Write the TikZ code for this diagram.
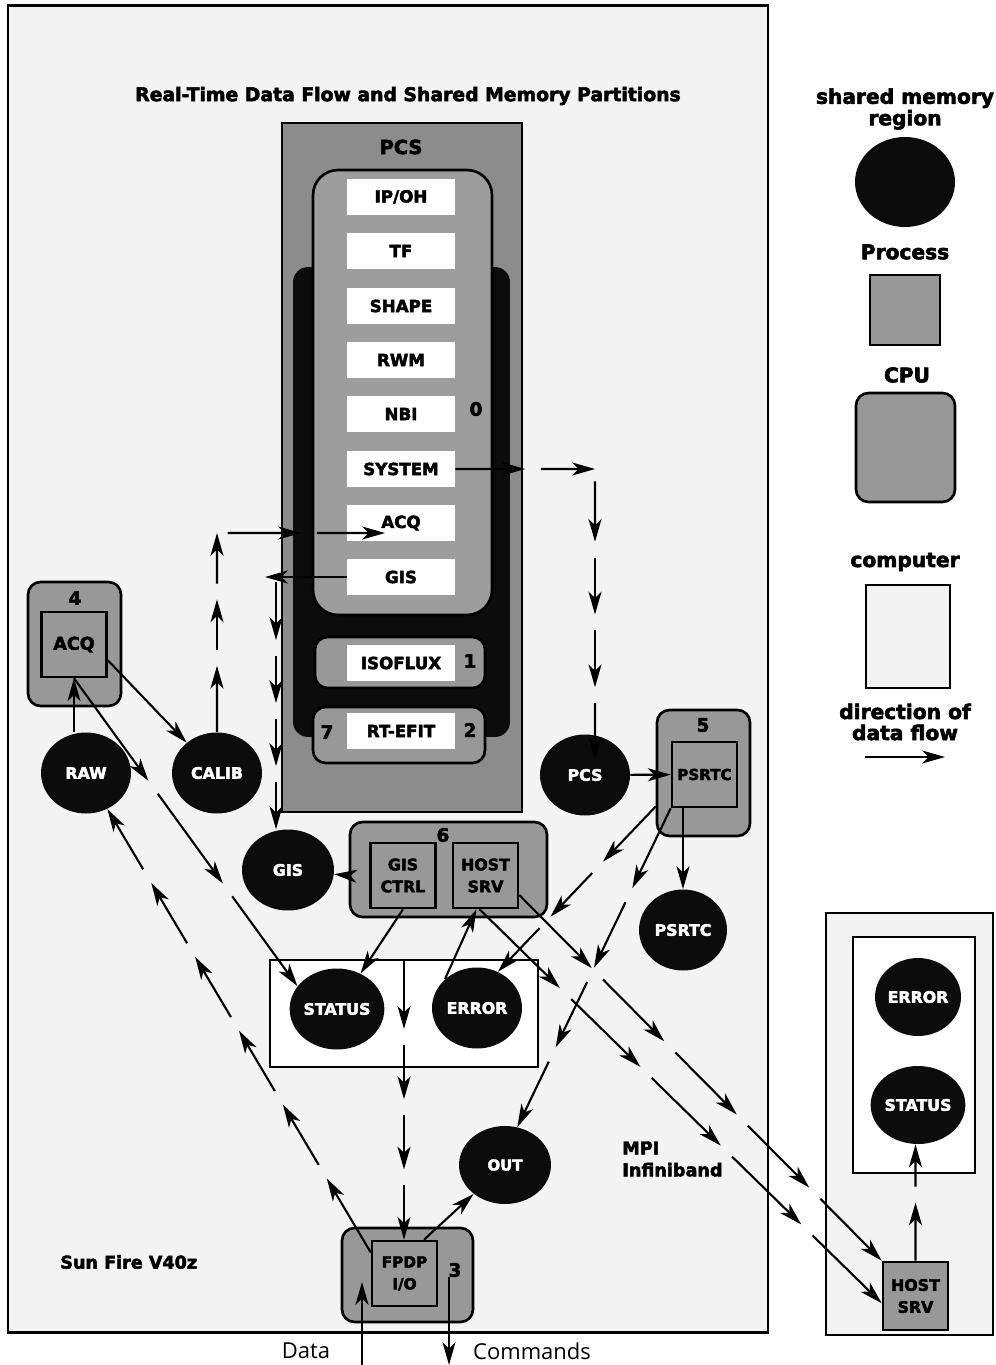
\documentclass[tikz,border=0pt]{standalone}
\usepackage{fontspec}
\setmainfont{DejaVu Sans}[BoldFeatures={FakeBold=2.8}]
\newfontfamily\plainfont{Open Sans}
\usepackage{tikz}
\usetikzlibrary{positioning, arrows.meta, shapes.geometric, calc}
\definecolor{procgray}  {RGB}{152, 152, 152}
\definecolor{pcsgray}   {RGB}{140, 140, 140}
\definecolor{compwhite} {RGB}{243, 243, 243}
\definecolor{memblack}  {RGB}{12,  12,  12}
\tikzset{
  computer/.style={
    rectangle, draw=black, line width=1.6pt, fill=compwhite, inner sep=0pt
  },
  cpubox/.style={
    rectangle, rounded corners=0.25cm, draw=black, line width=1.5pt,
    fill=procgray, inner sep=0pt
  },
  procbox/.style={
    rectangle, draw=black, line width=1.5pt, fill=procgray,
    minimum size=1.3cm, inner sep=0pt, align=center,
    font=\bfseries\fontsize{9}{12.5}\selectfont
  },
  membox/.style={
    ellipse, fill=memblack, minimum width=1.8cm, minimum height=1.62cm,
    inner sep=0pt, text=white, font=\bfseries\fontsize{9}{11}\selectfont
  },
  pcsslot/.style={
    rectangle, fill=white, minimum width=2.16cm, minimum height=0.72cm,
    inner sep=0pt, font=\bfseries\fontsize{9.5}{11}\selectfont
  },
  sharedbox/.style={
    rectangle, draw=black, line width=1.5pt, fill=white, inner sep=0pt
  },
  cpulabel/.style={
    font=\bfseries\fontsize{10.5}{12.5}\selectfont, inner sep=0pt
  },
  legendtext/.style={
    font=\bfseries\fontsize{11.5}{12}\selectfont, align=center, inner sep=0pt
  },
  plainlabel/.style={
    font=\plainfont\fontsize{12.5}{14}\selectfont, inner sep=0pt
  },
  dataarrow/.style={
    -{Stealth[length=13pt, width=7.4pt, inset=3.6pt]}, line width=1.2pt, color=black
  },
}
% broken connector: #4 arrow pieces from #2 to #3, first gap #1
\newcommand{\flowline}[4][0pt]{%
  \path (#2) -- (#3) coordinate[pos=0] (fl-a) coordinate[pos=1] (fl-b);
  \foreach \seg in {1,...,#4}{%
    \ifnum\seg=1 \def\flgap{#1}\else\def\flgap{9pt}\fi
    \draw[dataarrow, shorten <=\flgap]
      ($(fl-a)!{(\seg-1)/#4}!(fl-b)$) -- ($(fl-a)!{\seg/#4}!(fl-b)$);
  }%
}

\begin{document}
\begin{tikzpicture}[x=0.02cm, y=-0.02cm]
  \useasboundingbox (0,0) rectangle (995,1365);

  % Computers
  \node[computer, minimum width=15.2cm, minimum height=26.56cm] (sunfire) at (388,669) {};
  \node[computer, minimum width=3.34cm, minimum height=8.44cm] (remote) at (909.5,1124) {};

  % Title
  \node[font=\bfseries\fontsize{10.7}{12}\selectfont] (title) at (408,96)
    {Real-Time Data Flow and Shared Memory Partitions};

  % Legend
  \node[legendtext, font=\bfseries\fontsize{11.5}{10}\selectfont] (legmem) at (905,109) {shared memory\\region};
  \node[membox, minimum width=2cm, minimum height=1.8cm] (legell) at (905,182) {};
  \node[legendtext] (legproc) at (905,252) {Process};
  \node[procbox, minimum size=1.4cm] (legsq) at (905,310) {};
  \node[legendtext] (legcpu) at (907,375) {CPU};
  \node[cpubox, minimum width=1.98cm, minimum height=2.18cm] (legcpubox) at (905.5,447.5) {};
  \node[legendtext] (legcomp) at (905,562) {computer};
  \node[computer, minimum width=1.68cm, minimum height=2.06cm] (legcompbox) at (908,636.5) {};
  \node[legendtext] (legflow) at (905,722) {direction of\\data flow};
  \coordinate (legfrom) at (865,757);
  \coordinate (legto) at (945,757);
  \draw[dataarrow] (legfrom) -- (legto);

  % PCS partition
  \node[rectangle, draw=black, line width=1.6pt, fill=pcsgray,
        minimum width=4.8cm, minimum height=13.78cm] (pcs) at (402,467.5) {};
  \node[cpulabel, font=\bfseries\fontsize{11}{12}\selectfont] (pcstitle) at (401,147) {PCS};
  \node[rectangle, rounded corners=0.3cm, fill=memblack,
        minimum width=4.34cm, minimum height=9.4cm] (pcsmem) at (401.5,502) {};
  \node[cpubox, rounded corners=0.5cm, fill=procgray!95!white,
        minimum width=3.58cm, minimum height=8.9cm] (cpu0) at (402.5,392.5) {};
  \node[cpubox, minimum width=3.4cm, minimum height=1.02cm] (cpu1) at (400,662.5) {};
  \node[cpubox, minimum width=3.44cm, minimum height=1.12cm] (cpu2) at (399,735) {};

  % PCS algorithms
  \node[pcsslot] (ipoh)      at (401,197) {IP/OH};
  \node[pcsslot] (tf)        at (401,251) {TF};
  \node[pcsslot] (shapeslot) at (401,306) {SHAPE};
  \node[pcsslot] (rwm)       at (401,360) {RWM};
  \node[pcsslot] (nbi)       at (401,414) {NBI};
  \node[pcsslot] (system)    at (401,469) {SYSTEM};
  \node[pcsslot] (acqslot)   at (401,523) {ACQ};
  \node[pcsslot] (gisslot)   at (401,577) {GIS};
  \node[pcsslot] (isoflux)   at (401,663) {ISOFLUX};
  \node[pcsslot] (rtefit)    at (401,731) {RT-EFIT};
  \node[cpulabel] (lbl0) at (476,409) {0};
  \node[cpulabel] (lbl1) at (470,661) {1};
  \node[cpulabel] (lbl2) at (470,730) {2};
  \node[cpulabel] (lbl7) at (327,732) {7};

  % Acquisition CPU 4
  \node[cpubox, minimum width=1.86cm, minimum height=2.48cm] (cpu4) at (74.5,644) {};
  \node[cpulabel] (lbl4) at (75,598) {4};
  \node[procbox, font=\bfseries\fontsize{10}{12}\selectfont] (acq) at (74,644.5) {ACQ};
  \node[membox] (raw) at (86,773) {RAW};
  \node[membox] (calib) at (217,773) {CALIB};
  \node[membox, minimum width=1.84cm] (gis) at (288,870) {GIS};

  % CPU 6
  \node[cpubox, minimum width=3.94cm, minimum height=1.9cm] (cpu6) at (448.5,869.5) {};
  \node[cpulabel] (lbl6) at (443,835) {6};
  \node[procbox] (gisctrl) at (403,875.5) {GIS\\CTRL};
  \node[procbox] (hostsrv) at (485.5,875.5) {HOST\\SRV};

  % STATUS / ERROR region
  \node[sharedbox, minimum width=5.36cm, minimum height=2.14cm] (shared) at (404,1013.5) {};
  \node[membox] (status) at (337,1009) {STATUS};
  \node[membox] (error) at (477,1008) {ERROR};

  % CPU 3
  \node[cpubox, minimum width=2.62cm, minimum height=1.88cm] (cpu3) at (407.5,1275) {};
  \node[procbox, font=\bfseries\fontsize{8.7}{12.5}\selectfont] (fpdp) at (404.5,1273.5) {FPDP\\I/O};
  \node[cpulabel] (lbl3) at (455,1270) {3};
  \node[membox, minimum width=1.84cm, minimum height=1.56cm,
        font=\bfseries\fontsize{8.5}{10}\selectfont] (out) at (505,1165) {OUT};

  % CPU 5
  \node[membox] (pcsout) at (585,775) {PCS};
  \node[cpubox, minimum width=1.86cm, minimum height=2.52cm] (cpu5) at (703.5,773) {};
  \node[cpulabel] (lbl5) at (703,725) {5};
  \node[procbox, font=\bfseries\fontsize{8.6}{10}\selectfont] (psrtc) at (704.5,774.5) {PSRTC};
  \node[membox, minimum width=1.76cm] (psrtcmem) at (683,930) {PSRTC};

  % Remote host
  \node[sharedbox, minimum width=2.44cm, minimum height=4.72cm] (remshared) at (914,1055) {};
  \node[membox, minimum width=1.68cm, minimum height=1.56cm] (remerror) at (918,997) {ERROR};
  \node[membox, minimum width=1.68cm, minimum height=1.56cm] (remstatus) at (918,1105) {STATUS};
  \node[procbox, minimum width=1.3cm, minimum height=1.36cm] (remhost) at (915.5,1296) {HOST\\SRV};

  % Labels
  \node[cpulabel, font=\bfseries\fontsize{10}{12}\selectfont, anchor=west] (sunlbl) at (60,1262) {Sun Fire V40z};
  \node[cpulabel, font=\bfseries\fontsize{10}{12.5}\selectfont, anchor=west, align=left] (mpilbl) at (622,1159) {MPI\\Infiniband};
  \node[plainlabel] (datalbl) at (306,1351) {Data};
  \node[plainlabel] (cmdlbl) at (532,1351) {Commands};

  % Acquisition flow
  \draw[dataarrow] (raw.north -| acq.south) -- (acq.south);
  \draw[dataarrow] (acq.-25) -- (calib.135);
  \coordinate (calibup) at (217,533);
  \coordinate (acqin) at (385,533);
  \flowline{calib.north}{calibup}{3}
  \flowline[6pt]{calibup}{acqin}{2}
  \flowline{acq.south}{status.150}{3}
  \flowline{fpdp.148}{raw}{6}

  % PCS outputs
  \coordinate (gisleft) at (265,577);
  \coordinate (giscorner) at (276,577);
  \draw[dataarrow] (gisslot.west) -- (gisleft);
  \flowline[3pt]{giscorner}{gis.north -| giscorner}{4}
  \coordinate (systurn) at (595,469);
  \coordinate (pcsin) at (595,760);
  \flowline{system.east}{systurn}{2}
  \flowline[7pt]{systurn}{pcsin}{4}
  \draw[dataarrow] (pcsout) -- (psrtc);
  \draw[dataarrow] (psrtc.south -| psrtcmem) -- (psrtcmem);
  \flowline{cpu5.215}{error.60}{3}
  \flowline{psrtc.south west}{out.72}{4}

  % Status and host service
  \draw[dataarrow] (cpu6.west |- gisctrl) -- (gis);
  \draw[dataarrow] (gisctrl.south) -- (status);
  \draw[dataarrow] (error.north west) -- (hostsrv.-105);
  \flowline{hostsrv.-30}{remhost.north west}{5}
  \flowline{hostsrv.-100}{remhost.192}{5}
  \flowline{remhost.north}{remhost.north |- remstatus.south}{2}

  % FPDP I/O
  \flowline{shared.north}{shared.north |- fpdp.north}{4}
  \draw[dataarrow] (fpdp.60) -- (out);
  \coordinate (datasrc) at (362,1365);
  \coordinate (datadst) at (362,1282);
  \draw[dataarrow] (datasrc) -- (datadst);
  \coordinate (cmdsrc) at (449,1277);
  \coordinate (cmddst) at (449,1365);
  \draw[dataarrow] (cmdsrc) -- (cmddst);
\end{tikzpicture}
\end{document}
